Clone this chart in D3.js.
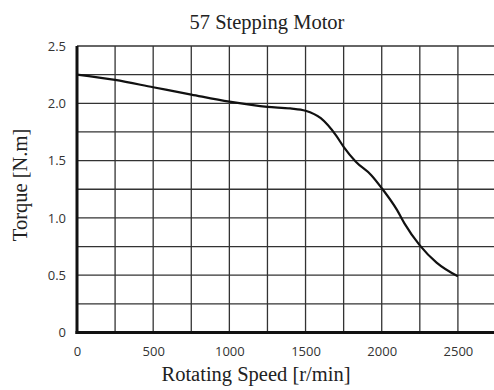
<!DOCTYPE html>
<html>
<head>
<meta charset="utf-8">
<script src="https://cdn.jsdelivr.net/npm/d3@7"></script>
<style>
  body { margin: 0; background: #fff; }
  svg { display: block; }
</style>
</head>
<body>
<div id="chart"></div>
<script>
// Torque curve
const speed = [0, 250, 500, 750, 1000, 1250, 1400, 1500, 1600, 1700, 1750, 1830, 1930, 2000, 2100, 2150, 2250, 2360, 2500];
const torque = [2.25, 2.204, 2.14, 2.076, 2.014, 1.968, 1.955, 1.935, 1.87, 1.72, 1.62, 1.49, 1.375, 1.26, 1.07, 0.95, 0.76, 0.61, 0.49];

const xTicks = [0, 500, 1000, 1500, 2000, 2500];
const yTicks = [0, 0.5, 1.0, 1.5, 2.0, 2.5];
const xGrid = d3.range(250, 2751, 250);
const yGrid = d3.range(0.25, 2.51, 0.25);

const width = 494, height = 390;

const x = d3.scaleLinear().domain([0, 2750]).range([77, 496]);
const y = d3.scaleLinear().domain([0, 2.5]).range([332.5, 46]);

const svg = d3.select('#chart')
  .append('svg')
  .attr('width', width)
  .attr('height', height);

// grid
svg.append('g')
  .selectAll('line')
  .data(xGrid)
  .join('line')
  .attr('x1', d => x(d)).attr('x2', d => x(d))
  .attr('y1', y(2.5)).attr('y2', y(0))
  .attr('stroke', '#333').attr('stroke-width', 1.3);

svg.append('g')
  .selectAll('line')
  .data(yGrid)
  .join('line')
  .attr('x1', x(0)).attr('x2', width)
  .attr('y1', d => y(d)).attr('y2', d => y(d))
  .attr('stroke', '#333').attr('stroke-width', 1.3);

// curve
const line = d3.line()
  .x(d => x(d[0]))
  .y(d => y(d[1]))
  .curve(d3.curveMonotoneX);

svg.append('path')
  .datum(speed.map((s, i) => [s, torque[i]]))
  .attr('d', line)
  .attr('fill', 'none')
  .attr('stroke', '#111')
  .attr('stroke-width', 2.2);

// axes
const xAxis = svg.append('g')
  .attr('transform', `translate(0,${y(0)})`)
  .call(d3.axisBottom(x).tickValues(xTicks).tickSize(0).tickSizeOuter(0).tickPadding(14).tickFormat(d3.format('d')));

const yAxis = svg.append('g')
  .attr('transform', `translate(${x(0)},0)`)
  .call(d3.axisLeft(y).tickValues(yTicks).tickSize(0).tickSizeOuter(0).tickPadding(11)
    .tickFormat(d => d === 0 ? '0' : d3.format('.1f')(d)));

xAxis.select('.domain').attr('stroke', '#111').attr('stroke-width', 3).attr('d', `M${x(0) - 1.5},0H${width}`);
yAxis.select('.domain').attr('stroke', '#111').attr('stroke-width', 3).attr('d', `M0,${y(2.5)}V${y(0) + 1.5}`);

[xAxis, yAxis].forEach(a => a.selectAll('text')
  .attr('font-family', '"Open Sans", sans-serif')
  .attr('font-size', 13)
  .attr('fill', '#333'));

// titles
svg.append('text')
  .attr('x', 267).attr('y', 29)
  .attr('text-anchor', 'middle')
  .attr('font-family', '"Liberation Serif", serif')
  .attr('font-size', 20.5)
  .attr('fill', '#222')
  .text('57 Stepping Motor');

svg.append('text')
  .attr('x', 256).attr('y', 381)
  .attr('text-anchor', 'middle')
  .attr('font-family', '"Liberation Serif", serif')
  .attr('font-size', 20.5)
  .attr('fill', '#222')
  .text('Rotating Speed [r/min]');

svg.append('text')
  .attr('transform', 'translate(27,185) rotate(-90)')
  .attr('text-anchor', 'middle')
  .attr('font-family', '"Liberation Serif", serif')
  .attr('font-size', 20.5)
  .attr('fill', '#222')
  .text('Torque [N.m]');
</script>
</body>
</html>
